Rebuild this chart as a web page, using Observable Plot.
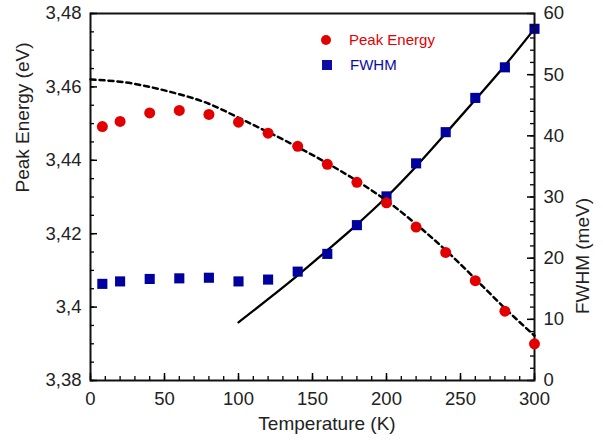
<!DOCTYPE html>
<html>
<head>
<meta charset="utf-8">
<script src="https://cdn.jsdelivr.net/npm/d3@7"></script>
<script src="https://cdn.jsdelivr.net/npm/@observablehq/plot@0.6"></script>
<style>
  html, body { margin: 0; padding: 0; background: #fff; }
  #chart { position: relative; width: 603px; height: 440px; font-family: "Liberation Sans", Arial, sans-serif; }
  #chart svg.layer { position: absolute; left: 0; top: 0; }
  .leg { position: absolute; display: flex; align-items: center; font-size: 15px; line-height: 1; white-space: nowrap; }
  .leg svg { margin-right: 17px; }
</style>
</head>
<body>
<div id="chart"></div>
<script>
// ---- data ----
const temperatures = [8, 20, 40, 60, 80, 100, 120, 140, 160, 180, 200, 220, 240, 260, 280, 300];
const peakEnergy   = [3.4492, 3.4506, 3.4529, 3.4536, 3.4525, 3.4504, 3.4474, 3.4438, 3.4389, 3.4340, 3.4284, 3.4218, 3.4149, 3.4072, 3.3989, 3.3900];
const fwhm         = [15.8, 16.2, 16.6, 16.7, 16.8, 16.2, 16.5, 17.8, 20.7, 25.4, 30.1, 35.5, 40.6, 46.2, 51.2, 57.5];

const varshniT     = [0, 20, 40, 60, 80, 100, 120, 140, 160, 180, 200, 220, 240, 260, 280, 300];
const varshniE     = [3.4620, 3.4614, 3.4600, 3.4580, 3.4554, 3.4516, 3.4477, 3.4436, 3.4392, 3.4344, 3.4290, 3.4226, 3.4155, 3.4077, 3.3997, 3.3922];

const fitT         = [100, 120, 140, 160, 180, 200, 220, 240, 260, 280, 300];
const fitFwhm      = [9.5, 13.3, 17.2, 21.3, 25.5, 30.0, 35.0, 40.4, 45.9, 51.5, 57.5];

const xTicks = [0, 50, 100, 150, 200, 250, 300];
const xTickLabels = ["0", "50", "100", "150", "200", "250", "300"];
const energyTicks = [3.38, 3.40, 3.42, 3.44, 3.46, 3.48];
const energyTickLabels = ["3,38", "3,4", "3,42", "3,44", "3,46", "3,48"];
const fwhmTicks = [0, 10, 20, 30, 40, 50, 60];
const fwhmTickLabels = ["0", "10", "20", "30", "40", "50", "60"];

const seriesNames = ["Peak Energy", "FWHM"];
const xTitle = "Temperature (K)";
const yLeftTitle = "Peak Energy (eV)";
const yRightTitle = "FWHM (meV)";

// ---- layout / style ----
const W = 603, H = 440;
const M = {top: 13, right: 69, bottom: 60, left: 90};
const plotW = W - M.left - M.right, plotH = H - M.top - M.bottom;
const RED = "#e30000", BLUE = "#00009e", INK = "#222";
const FONT = "'Liberation Sans', Arial, sans-serif";

const xMinor = d3.range(0, 301, 10);
const energyMinor = d3.range(3.38, 3.4801, 0.005);
const fwhmMinor = d3.range(0, 60.01, 2);

const energyRows = temperatures.map((t, i) => ({t, e: peakEnergy[i]}));
const fwhmRows = temperatures.map((t, i) => ({t, w: fwhm[i]}));
const varRows = varshniT.map((t, i) => ({t, e: varshniE[i]}));
const fitRows = fitT.map((t, i) => ({t, w: fitFwhm[i]}));

const xLab = new Map(xTicks.map((d, i) => [d, xTickLabels[i]]));
const eLab = new Map(energyTicks.map((d, i) => [d, energyTickLabels[i]]));
const wLab = new Map(fwhmTicks.map((d, i) => [d, fwhmTickLabels[i]]));

const common = {
  width: W, height: H,
  marginTop: M.top, marginRight: M.right, marginBottom: M.bottom, marginLeft: M.left,
  style: {background: "transparent", fontFamily: FONT, fontSize: "18.5px", color: INK}
};

// bottom layer: FWHM on its own y scale (right axis)
const plotF = Plot.plot({
  ...common,
  x: {domain: [0, 300], axis: null},
  y: {domain: [0, 60], axis: null},
  marks: [
    Plot.line(fitRows, {x: "t", y: "w", stroke: "#000", strokeWidth: 2.3, curve: "monotone-x"}),
    Plot.dot(fwhmRows, {x: "t", y: "w", symbol: "square", r: 5.7, fill: BLUE, stroke: "none"}),
    Plot.tickY(fwhmTicks, {y: d => d, insetLeft: plotW - 7, stroke: "#000", strokeWidth: 1.5}),
    Plot.tickY(fwhmMinor, {y: d => d, insetLeft: plotW - 4, stroke: "#000", strokeWidth: 1.3}),
    Plot.axisY({anchor: "right", ticks: fwhmTicks, tickFormat: d => wLab.get(d), tickSize: 0, tickPadding: 9, label: null, fill: INK}),
    Plot.text([yRightTitle], {frameAnchor: "right", dx: 48, dy: 1, rotate: -90, fontSize: 19, fill: INK, lineAnchor: "middle"})
  ]
});

// top layer: Peak Energy (left axis), x axis, frame
const plotE = Plot.plot({
  ...common,
  x: {domain: [0, 300]},
  y: {domain: [3.38, 3.48]},
  marks: [
    Plot.frame({stroke: "#111", strokeWidth: 2}),
    Plot.line(varRows, {x: "t", y: "e", stroke: "#000", strokeWidth: 2.5, strokeDasharray: "5,4", curve: "natural"}),
    Plot.dot(energyRows, {x: "t", y: "e", r: 5.5, fill: RED, stroke: "none"}),
    Plot.tickY(energyTicks, {y: d => d, insetRight: plotW - 7, stroke: "#000", strokeWidth: 1.5}),
    Plot.tickY(energyMinor, {y: d => d, insetRight: plotW - 4, stroke: "#000", strokeWidth: 1.3}),
    Plot.tickX(xTicks, {x: d => d, insetTop: plotH - 7, stroke: "#000", strokeWidth: 1.5}),
    Plot.tickX(xMinor, {x: d => d, insetTop: plotH - 4, stroke: "#000", strokeWidth: 1.3}),
    Plot.axisY({anchor: "left", ticks: energyTicks, tickFormat: d => eLab.get(d), tickSize: 0, tickPadding: 9, label: null, fill: INK}),
    Plot.axisX({anchor: "bottom", ticks: xTicks, tickFormat: d => xLab.get(d), tickSize: 0, tickPadding: 11, label: null, fill: INK}),
    Plot.text([xTitle], {frameAnchor: "bottom", dx: 14.5, dy: 43, fontSize: 19, fill: INK, lineAnchor: "middle"}),
    Plot.text([yLeftTitle], {frameAnchor: "left", dx: -67.5, dy: -4.5, rotate: -90, fontSize: 19, fill: INK, lineAnchor: "middle"})
  ]
});

const chart = document.getElementById("chart");
plotF.classList.add("layer");
plotE.classList.add("layer");
chart.appendChild(plotF);
chart.appendChild(plotE);

// legend
function legendRow(name, color, shape, left, top) {
  const row = document.createElement("div");
  row.className = "leg";
  row.style.left = left + "px";
  row.style.top = top + "px";
  row.style.color = color;
  const sym = shape === "circle"
    ? `<svg width="12" height="12"><circle cx="6" cy="6" r="5" fill="${color}"/></svg>`
    : `<svg width="12" height="12"><rect x="1" y="1" width="10" height="10" fill="${color}"/></svg>`;
  row.innerHTML = sym + `<span>${name}</span>`;
  chart.appendChild(row);
}
legendRow(seriesNames[0], RED, "circle", 320, 32);
legendRow(seriesNames[1], "#0b0ba8", "square", 321, 57);
</script>
</body>
</html>
